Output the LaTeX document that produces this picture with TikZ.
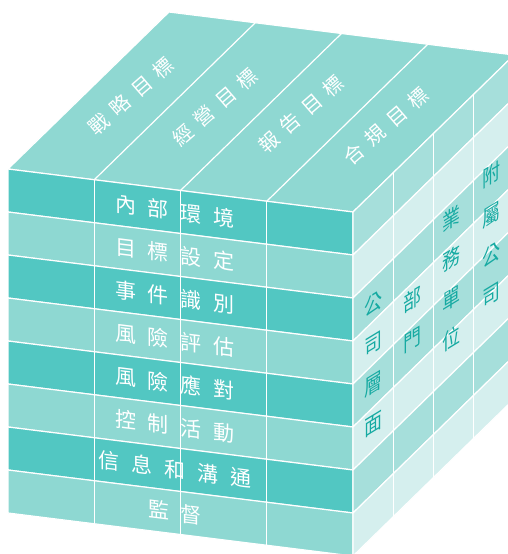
\documentclass[tikz,border=0pt]{standalone}
\usepackage{fontspec}
\newfontfamily\cjk{Noto Sans CJK TC}
\definecolor{frontdark}{HTML}{52C7C2}
\definecolor{frontlight}{HTML}{8ED8D2}
\definecolor{topc}{HTML}{8FD8D2}
\definecolor{rightmed}{HTML}{A6DFDB}
\definecolor{rightlight}{HTML}{D5EFEE}
\definecolor{rtext}{HTML}{16AAA2}
\newcommand{\gp}{\hspace{12pt}}
\newcommand{\tg}{\hspace{8.5pt}}
\tikzset{
  cell/.style={draw=white, line width=1.2pt, line join=round},
  fronttext/.style={text=white, font=\cjk\fontsize{21pt}{21pt}\selectfont, inner sep=0pt, yslant=-0.125},
  toptext/.style={text=white, font=\cjk\fontsize{20pt}{20pt}\selectfont, inner sep=0pt, rotate=41},
  sidetext/.style={text=rtext, font=\cjk\fontsize{22pt}{40pt}\selectfont, align=center, inner sep=0pt, xscale=0.82, yslant=0.5},
}
\begin{document}
\begin{tikzpicture}[x=1pt,y=-1pt]
\useasboundingbox (0,0) rectangle (508,554);
\clip (0,0) rectangle (508,554);
% top face
\filldraw[cell, fill=topc] (8,169) -- (353,212) -- (514,55) -- (169,12) -- cycle;
% rows of front and right faces
\foreach \i/\fc/\sc in {0/frontdark/rightmed,1/frontlight/rightlight,2/frontdark/rightmed,3/frontlight/rightlight,4/frontdark/rightmed,5/frontlight/rightlight,6/frontdark/rightmed,7/frontlight/rightlight}{
  \filldraw[cell, fill=\fc] (8,{169+43*\i}) -- (353,{212+43*\i}) -- (353,{255+43*\i}) -- (8,{212+43*\i}) -- cycle;
  \filldraw[cell, fill=\sc] (353,{212+43*\i}) -- (514,{55+43*\i}) -- (514,{98+43*\i}) -- (353,{255+43*\i}) -- cycle;
}
% column lines
\foreach \k in {1,2,3}{
  \draw[cell] ({8+86.25*\k},{169+10.75*\k}) -- ++(161,-157);
  \draw[cell] ({8+86.25*\k},{169+10.75*\k}) -- ++(0,344);
  \draw[cell] ({353+40.25*\k},{212-39.25*\k}) -- ++(0,344);
}
% top labels
\node[toptext] (t1) at (131,96) {戰\tg 略\tg 目\tg 標};
\node[toptext] (t2) at (215,107) {經\tg 營\tg 目\tg 標};
\node[toptext] (t3) at (301,114) {報\tg 告\tg 目\tg 標};
\node[toptext] (t4) at (386,126) {合\tg 規\tg 目\tg 標};
% front labels
\node[fronttext] (f1) at (175,211.3) {內\gp 部\gp 環\gp 境};
\node[fronttext] (f2) at (175,254.3) {目\gp 標\gp 設\gp 定};
\node[fronttext] (f3) at (175,297.3) {事\gp 件\gp 識\gp 別};
\node[fronttext] (f4) at (175,340.3) {風\gp 險\gp 評\gp 估};
\node[fronttext] (f5) at (175,383.3) {風\gp 險\gp 應\gp 對};
\node[fronttext] (f6) at (175,426.3) {控\gp 制\gp 活\gp 動};
\node[fronttext] (f7) at (175,469.3) {信\gp 息\gp 和\gp 溝\gp 通};
\node[fronttext] (f8) at (175,512.3) {監\gp 督};
% right labels
\node[sidetext] (r1) at (374,364) {公\\司\\層\\面};
\node[sidetext] (r2) at (413,320) {部\\門};
\node[sidetext] (r3) at (452,279) {業\\務\\單\\位};
\node[sidetext] (r4) at (492,235) {附\\屬\\公\\司};
\end{tikzpicture}
\end{document}
